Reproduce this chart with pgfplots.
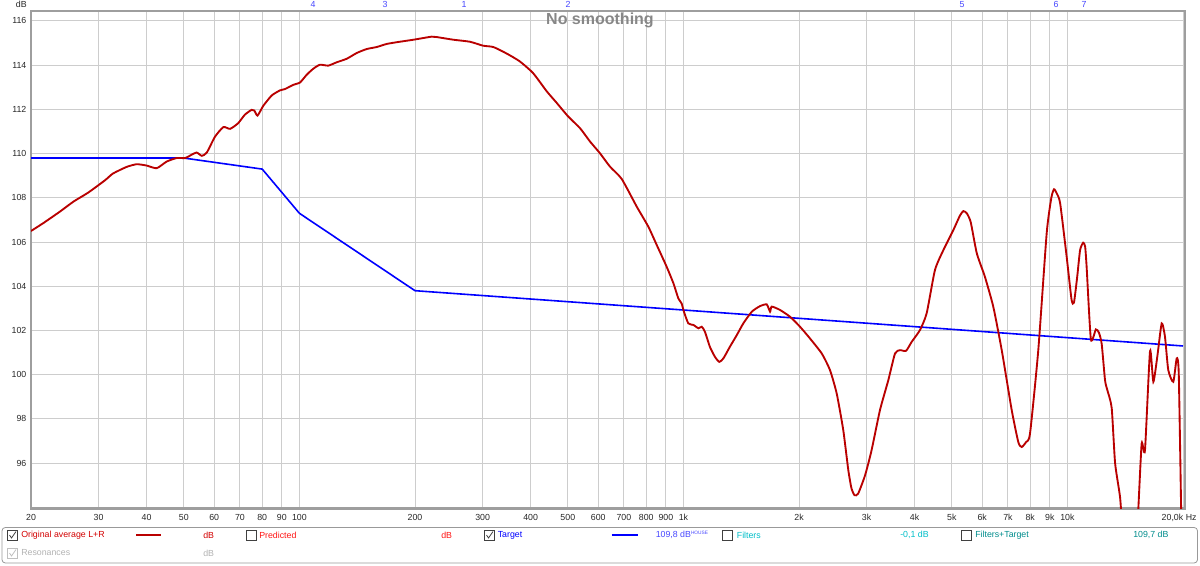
\documentclass[border=0pt]{standalone}
\usepackage{fontspec}
\setmainfont{Liberation Sans}
\usepackage{pgfplots}
\pgfplotsset{compat=1.18}

\definecolor{rewred}{RGB}{185,0,0}
\definecolor{rewblue}{RGB}{0,0,255}
\definecolor{txtred}{RGB}{210,0,0}
\definecolor{predred}{RGB}{255,20,20}
\definecolor{markblue}{RGB}{70,70,255}
\definecolor{filtcyan}{RGB}{0,190,200}
\definecolor{filtteal}{RGB}{0,140,140}
\definecolor{gridgray}{RGB}{205,205,205}

% measured response, Hz / dB
\pgfplotstableread{
f v
20 106.5
21.5 106.85
23.8 107.38
25.8 107.83
28.2 108.24
31.2 108.8
32.7 109.1
35.5 109.4
37.7 109.52
40.0 109.46
42.5 109.34
45.1 109.64
47.9 109.8
50.4 109.8
52.4 109.95
54.0 110.05
55.7 109.9
57.4 110.05
60.3 110.77
63.4 111.2
66.0 111.12
69.3 111.38
72.1 111.76
75.1 111.98
76.3 111.95
77.8 111.72
80.5 112.16
84.7 112.63
89.0 112.86
91.7 112.92
96.4 113.11
100.4 113.22
104.5 113.57
108.7 113.84
113.1 114.02
118.9 113.98
125 114.13
132.8 114.29
141 114.55
149.7 114.73
158.9 114.82
168.8 114.96
181 115.05
198 115.15
221 115.29
228 115.27
252 115.15
278 115.06
301 114.88
320 114.82
347 114.52
375 114.17
406 113.64
441 112.81
468 112.29
501 111.68
538 111.15
571 110.55
606 110.02
644 109.41
691 108.85
756 107.6
810 106.7
852 105.87
904 104.89
942 104.13
970 103.45
989 103.23
1003 102.85
1030 102.32
1062 102.25
1094 102.1
1116 102.17
1138 101.94
1172 101.26
1208 100.81
1240 100.58
1271 100.74
1321 101.26
1377 101.79
1432 102.32
1507 102.85
1582 103.1
1648 103.18
1681 102.85
1698 103.08
1784 102.93
1896 102.62
2012 102.17
2136 101.64
2292 100.96
2408 100.21
2507 99.15
2608 97.49
2688 95.68
2740 94.85
2790 94.55
2851 94.62
2972 95.45
3090 96.58
3250 98.4
3416 99.75
3557 100.96
3664 101.11
3800 101.08
3932 101.49
4130 102.02
4300 102.78
4520 104.74
4754 105.64
5048 106.55
5250 107.2
5360 107.4
5470 107.3
5600 106.9
5808 105.49
6097 104.43
6412 103.07
6745 101.11
7161 98.4
7450 96.95
7603 96.73
7800 96.95
7992 97.34
8397 101.11
8831 106.4
9080 108.0
9228 108.39
9380 108.2
9572 107.76
9954 105.34
10250 103.4
10400 103.26
10600 104.4
10790 105.64
10990 105.97
11120 105.8
11220 104.89
11510 101.6
11860 102.05
12080 101.9
12280 101.4
12530 99.75
12706 99.3
13040 98.5
13310 96.0
13710 94.47
14040 92.5
15100 92.5
15300 93.95
15610 96.89
15920 96.58
16410 101.07
16740 99.68
17140 100.81
17600 102.32
17950 101.72
18310 100.21
18870 99.68
19260 100.74
19500 100.0
19840 92.5
}\measured

\pgfplotstableread{
f v
20 109.8
50 109.8
80 109.3
100 107.3
200 103.8
20000 101.3
}\target

\begin{document}
\begin{tikzpicture}
\begin{axis}[
  at={(23.25pt,-8.25pt)}, anchor=north west,
  scale only axis, width=865.5pt, height=373.1pt,
  xmode=log, xmin=20, xmax=20240, ymin=93.95, ymax=116.45,
  xtick={20,30,40,50,60,70,80,90,100,200,300,400,500,600,700,800,900,
         1000,2000,3000,4000,5000,6000,7000,8000,9000,10000,20000},
  xticklabels={20,30,40,50,60,70,80,90,100,200,300,400,500,600,700,800,900,
         1k,2k,3k,4k,5k,6k,7k,8k,9k,10k,{}},
  ytick={96,98,...,116},
  grid=major,
  major grid style={gridgray, line width=0.7pt},
  major tick length=0pt,
  axis line style={draw=black!38, line width=1.8pt},
  ticklabel style={font=\fontsize{6.6}{7}\selectfont, text=black!85},
  /pgf/number format/assume math mode=true,
  xticklabel style={yshift=-0.8pt},
  clip mode=individual,
]
\addplot[rewblue, line width=1.2pt] table[x=f, y=v] {\target};
\addplot[rewred, line width=1.4pt, smooth, tension=0.35] table[x=f, y=v] {\measured};
\end{axis}

\begin{scope}[x=0.75pt, y=-0.75pt]
\path[use as bounding box] (0,0) rectangle (1200,565);
\def\fs{\fontsize{6.6}{7}\selectfont}
% axis extras
\node[anchor=east, inner sep=0, font=\fs, text=black!85] at (1183.5,517.5) {20,0k};
\node[anchor=west, inner sep=0, font=\fs, text=black!85] at (1185.5,517.5) {Hz};
\node[anchor=east, inner sep=0, font=\fs, text=black!85] at (27,4.5) {dB};
\node[font=\fontsize{12}{14}\selectfont\bfseries, text=black!47] at (600,20) {No smoothing};
% resonance markers
\foreach \xx/\lab in {313/4,385/3,464/1,568/2,962/5,1056/6,1084/7}
  \node[inner sep=0, font=\fs, text=markblue] at (\xx,4.5) {\lab};
% legend panel
\draw[black!40, line width=0.6pt, rounded corners=2.5pt] (2,527.5) rectangle (1197.5,563);
\newcommand{\cbox}[3]{\draw[#3, line width=0.55pt] ({#1-5},{#2-5}) rectangle ({#1+5},{#2+5});}
\newcommand{\cmark}[3]{\draw[#3, line width=0.6pt] ({#1-3},{#2}) -- ({#1-1},{#2+3}) -- ({#1+3.5},{#2-3.5});}
\cbox{12.5}{535}{black!75}\cmark{12.5}{535}{black!75}
\node[anchor=west, inner sep=0, font=\fs, text=txtred] at (21,535) {Original average L+R};
\draw[rewred, line width=1.4pt] (136,535) -- (161,535);
\node[anchor=west, inner sep=0, font=\fs, text=txtred] at (203,535) {dB};
\cbox{251}{535}{black!75}
\node[anchor=west, inner sep=0, font=\fs, text=predred] at (259,535) {Predicted};
\node[anchor=west, inner sep=0, font=\fs, text=predred] at (441,535) {dB};
\cbox{489.5}{535}{black!75}\cmark{489.5}{535}{black!75}
\node[anchor=west, inner sep=0, font=\fs, text=rewblue] at (497.5,535) {Target};
\draw[rewblue, line width=1.2pt] (611.5,535) -- (637.5,535);
\node[anchor=west, inner sep=0, font=\fs, text=markblue] at (655.5,535) {109,8 dB\raisebox{0.6ex}{\fontsize{3.6}{4}\selectfont HOUSE}};
\cbox{727.5}{535}{black!75}
\node[anchor=west, inner sep=0, font=\fs, text=filtcyan] at (736.6,535) {Filters};
\node[anchor=west, inner sep=0, font=\fs, text=filtcyan] at (900,535) {-0,1 dB};
\cbox{966}{535}{black!75}
\node[anchor=west, inner sep=0, font=\fs, text=filtteal] at (975,535) {Filters+Target};
\node[anchor=west, inner sep=0, font=\fs, text=filtteal] at (1133,535) {109,7 dB};
\cbox{12.5}{553}{black!25}\cmark{12.5}{553}{black!25}
\node[anchor=west, inner sep=0, font=\fs, text=black!30] at (21,553) {Resonances};
\node[anchor=west, inner sep=0, font=\fs, text=black!30] at (203,553) {dB};
\end{scope}
\end{tikzpicture}
\end{document}
